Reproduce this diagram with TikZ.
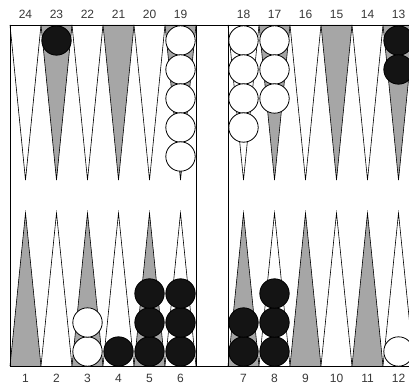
\documentclass[tikz,border=0pt]{standalone}
\usepackage{fontspec}
\setmainfont{Liberation Sans}
\begin{document}
\begin{tikzpicture}[x=1pt,y=-1pt,
  pt/.style={draw=black,line width=0.6pt,line join=miter},
  shade/.style={pt,fill=black!35},
  plain/.style={pt,fill=white},
  wchk/.style={draw=black,line width=0.8pt,fill=white},
  bchk/.style={draw=black,line width=0.8pt,fill=black!92},
  lbl/.style={font=\fontsize{12}{13}\selectfont,text=black!78,inner sep=0pt},
  edge/.style={draw=black,line width=0.8pt}]
\useasboundingbox (0,0) rectangle (409,387);
\fill[white] (0,0) rectangle (409,387);
\def\R{14.7}
% top points: 24..19 left, 18..13 right
\foreach \i/\lx/\s in {24/10/plain,23/41/shade,22/72/plain,21/103/shade,20/134/plain,19/165/shade,
                        18/228/plain,17/259/shade,16/290/plain,15/321/shade,14/352/plain,13/383/shade}{
  \draw[\s] (\lx,25) -- (\lx+15.5,180) -- (\lx+31,25);
  \node[lbl] (t\i) at (\lx+15.5,14) {\i};
}
% bottom points: 1..6 left, 7..12 right
\foreach \i/\lx/\s in {1/10/shade,2/41/plain,3/72/shade,4/103/plain,5/134/shade,6/165/plain,
                        7/228/shade,8/259/plain,9/290/shade,10/321/plain,11/352/shade,12/383/plain}{
  \draw[\s] (\lx,366) -- (\lx+15.5,213) -- (\lx+31,366);
  \node[lbl] (b\i) at (\lx+15.5,378) {\i};
}
% board edges
\draw[edge] (10,25) -- (10,366);
\draw[edge] (196.5,25) -- (196.5,366);
\draw[edge] (228,25) -- (228,366);
\draw[edge] (10,25) -- (409,25);
\draw[edge] (10,366) -- (409,366);
% checkers top
\draw[bchk] (56.5,40.5) circle (\R);
\foreach \k in {0,...,4} \draw[wchk] (180.5,40.5+29*\k) circle (\R);
\foreach \k in {0,...,3} \draw[wchk] (243.5,40.5+29*\k) circle (\R);
\foreach \k in {0,...,2} \draw[wchk] (274.5,40.5+29*\k) circle (\R);
\foreach \k in {0,1} \draw[bchk] (398.5,40.5+29*\k) circle (\R);
% checkers bottom
\foreach \k in {0,1} \draw[wchk] (87.5,351.5-29*\k) circle (\R);
\draw[bchk] (118.5,351.5) circle (\R);
\foreach \k in {0,...,2} \draw[bchk] (149.5,351.5-29*\k) circle (\R);
\foreach \k in {0,...,2} \draw[bchk] (180.5,351.5-29*\k) circle (\R);
\foreach \k in {0,1} \draw[bchk] (243.5,351.5-29*\k) circle (\R);
\foreach \k in {0,...,2} \draw[bchk] (274.5,351.5-29*\k) circle (\R);
\draw[wchk] (398.5,351.5) circle (\R);
\end{tikzpicture}
\end{document}
